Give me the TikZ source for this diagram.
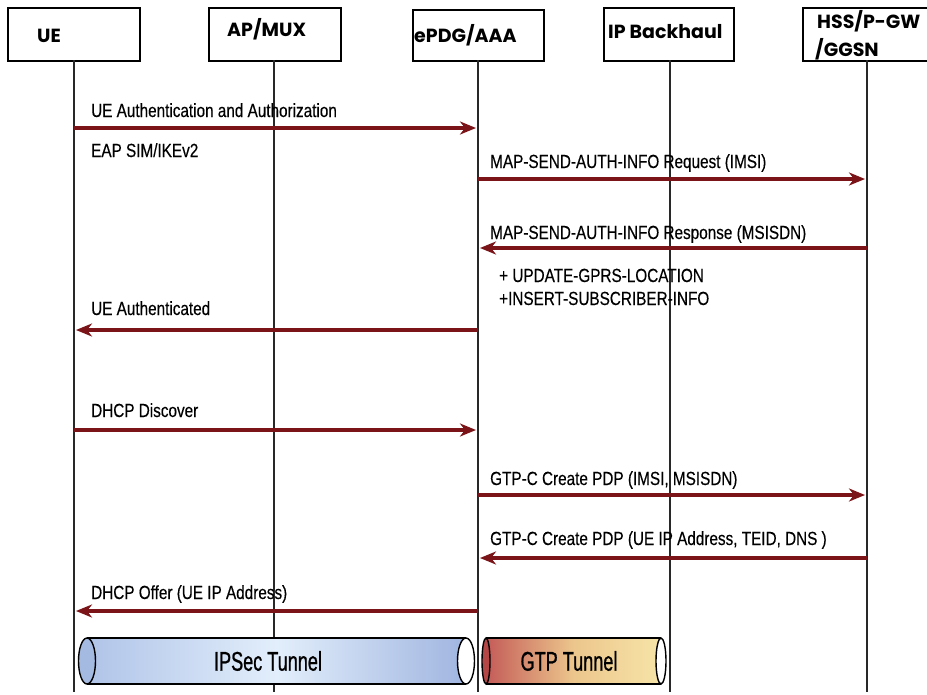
\documentclass[tikz,border=0pt]{standalone}
\usepackage{fontspec}
\usetikzlibrary{arrows.meta}
\newfontfamily\msgfont[FakeStretch=0.805, FakeBold=0.3]{Liberation Sans}
\newfontfamily\tunfont[FakeStretch=0.67, FakeBold=0.8]{Liberation Sans}
\newfontfamily\hdrfont{Poppins}
\definecolor{arrowred}{RGB}{122,20,24}
\definecolor{lifegray}{RGB}{40,40,40}
\definecolor{ipsecL}{RGB}{176,196,232}
\definecolor{ipsecM}{RGB}{226,238,251}
\definecolor{ipsecR}{RGB}{160,181,224}
\definecolor{ipsecEnd}{RGB}{165,186,225}
\definecolor{gtpL}{RGB}{196,92,88}
\definecolor{gtpM}{RGB}{236,198,140}
\definecolor{gtpR}{RGB}{247,228,168}
\definecolor{gtpEnd}{RGB}{180,70,70}
\begin{document}
\begin{tikzpicture}[x=1pt,y=-1pt,
  hbox/.style={draw, line width=1.6pt, inner sep=0pt, anchor=north west},
  htext/.style={font=\hdrfont\bfseries\fontsize{19}{22}\selectfont, inner sep=0pt, anchor=base west},
  life/.style={line width=1.3pt, draw=lifegray},
  msg/.style={draw=arrowred, line width=4pt, -{Stealth[length=16pt,width=13pt,inset=5pt]}, shorten >=2pt},
  mtext/.style={font=\msgfont\fontsize{19}{22}\selectfont, inner sep=0pt, anchor=base west},
  ttext/.style={font=\tunfont\fontsize{27}{30}\selectfont, inner sep=0pt},
  tube/.style={line width=1.4pt, draw=black}]
\useasboundingbox (0,0) rectangle (927,694);
\fill[white] (0,0) rectangle (927,694);

% header boxes
\node[hbox, minimum width=132pt, minimum height=53pt] (ue) at (7,7) {};
\node[hbox, minimum width=132pt, minimum height=53pt] (ap) at (208,7) {};
\node[hbox, minimum width=131pt, minimum height=51pt] (epdg) at (412,9) {};
\node[hbox, minimum width=130pt, minimum height=53pt] (ipb) at (603,7) {};
\node[hbox, minimum width=140pt, minimum height=53pt] (hss) at (802,7) {};

\node[htext] (ueT) at (37,42) {UE};
\node[htext] (apT) at (227,36) {AP/MUX};
\node[htext] (epdgT) at (414,42) {ePDG/AAA};
\node[htext] (ipbT) at (608,38) {IP Backhaul};
\node[htext] (hssT1) at (817,28) {HSS/P-GW};
\node[htext] (hssT2) at (815,56) {/GGSN};

% lifelines
\coordinate (ueL) at (74,60);
\coordinate (apL) at (274,60);
\coordinate (epdgL) at (478,60);
\coordinate (ipbL) at (670,60);
\coordinate (hssL) at (867,60);
\coordinate (bot) at (0,692);
\foreach \l in {ueL,apL,epdgL,ipbL,hssL}
  \draw[life] (\l) -- (\l |- bot);

% messages
\coordinate (m1) at (0,128);
\coordinate (m2) at (0,179);
\coordinate (m3) at (0,248);
\coordinate (m4) at (0,330);
\coordinate (m5) at (0,430);
\coordinate (m6) at (0,495);
\coordinate (m7) at (0,558);
\coordinate (m8) at (0,611);

\draw[msg] (ueL |- m1) -- (epdgL |- m1);
\draw[msg] (epdgL |- m2) -- (hssL |- m2);
\draw[msg] (hssL |- m3) -- (epdgL |- m3);
\draw[msg] (epdgL |- m4) -- (ueL |- m4);
\draw[msg] (ueL |- m5) -- (epdgL |- m5);
\draw[msg] (epdgL |- m6) -- (hssL |- m6);
\draw[msg] (hssL |- m7) -- (epdgL |- m7);
\draw[msg] (epdgL |- m8) -- (ueL |- m8);

\node[mtext] (t1) at (91,117) {UE Authentication and Authorization};
\node[mtext] (t1b) at (91,157) {EAP SIM/IKEv2};
\node[mtext] (t2) at (490,168) {MAP-SEND-AUTH-INFO Request (IMSI)};
\node[mtext] (t3) at (490,239) {MAP-SEND-AUTH-INFO Response (MSISDN)};
\node[mtext] (t3b) at (499,282) {+ UPDATE-GPRS-LOCATION};
\node[mtext] (t3c) at (499,305) {+INSERT-SUBSCRIBER-INFO};
\node[mtext] (t4) at (91,315) {UE Authenticated};
\node[mtext] (t5) at (91,417) {DHCP Discover};
\node[mtext] (t6) at (490,485) {GTP-C Create PDP (IMSI, MSISDN)};
\node[mtext] (t7) at (490,545) {GTP-C Create PDP (UE IP Address, TEID, DNS )};
\node[mtext] (t8) at (91,599) {DHCP Offer (UE IP Address)};

% IPSec tunnel
\shade[left color=ipsecL, right color=ipsecR, middle color=ipsecM] (87,638) rectangle (466,684);
\draw[tube] (87,638) -- (466,638) (87,684) -- (466,684);
\draw[tube, fill=ipsecEnd] (87,661) ellipse [x radius=8.5, y radius=23];
\draw[tube, fill=white] (466,661) ellipse [x radius=8.5, y radius=23];
\node[ttext] (ipsecT) at (268,661) {IPSec Tunnel};

% GTP tunnel
\shade[left color=gtpL, right color=gtpR, middle color=gtpM] (486,638) rectangle (661,684);
\draw[tube] (486,638) -- (661,638) (486,684) -- (661,684);
\draw[tube, fill=gtpEnd] (486,661) ellipse [x radius=4, y radius=23];
\draw[tube, fill=white] (661,661) ellipse [x radius=5, y radius=23];
\node[ttext] (gtpT) at (569,661) {GTP Tunnel};
\end{tikzpicture}
\end{document}
